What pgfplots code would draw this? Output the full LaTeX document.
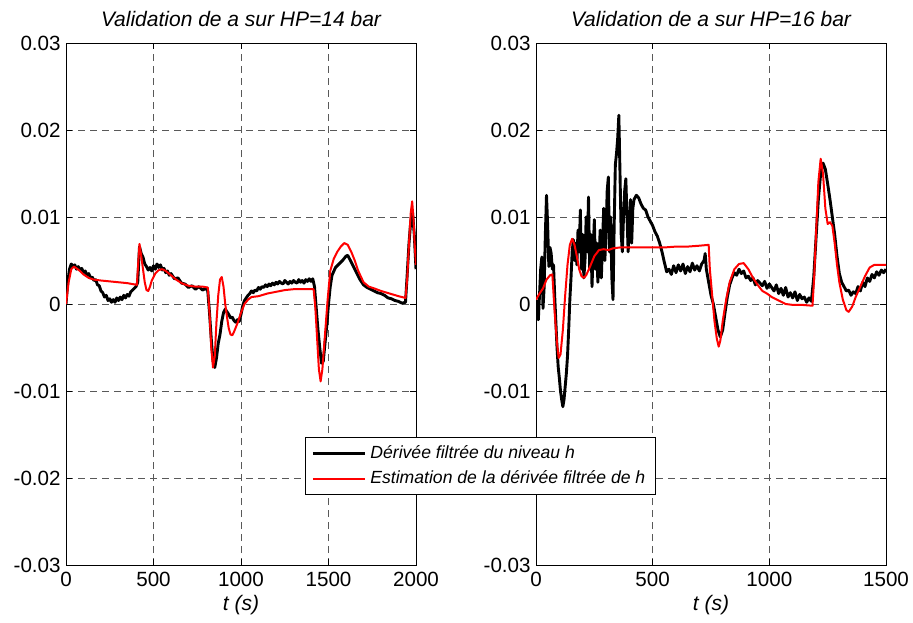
\documentclass[border=0pt]{standalone}
\usepackage{pgfplots}
\pgfplotsset{compat=1.18}
\usepackage{fontspec}
\setmainfont{Liberation Sans}
\begin{document}
\begin{tikzpicture}
\pgfplotsset{
  myaxis/.style={
    scale only axis, width=175pt, height=261pt, anchor=south west,
    ymin=-0.03, ymax=0.03,
    ytick={-0.03,-0.02,-0.01,0,0.01,0.02,0.03},
    yticklabels={-0.03,-0.02,-0.01,0,0.01,0.02,0.03},
    scaled y ticks=false, scaled x ticks=false,
    /pgf/number format/assume math mode=true,
    /pgf/number format/1000 sep={},
    grid=major,
    major grid style={black!65, line width=0.45pt, dash pattern=on 3.5pt off 2.5pt},
    axis line style={black, line width=0.5pt},
    tick align=inside, tick pos=both, major tick length=3pt,
    tick style={black, line width=0.45pt},
    tick label style={font=\fontsize{10.3}{12}\selectfont},
    xticklabel style={anchor=base, yshift=-10.5pt},
    yticklabel style={anchor=east, inner sep=0pt, xshift=-2.5pt},
    title style={at={(0.5,1)}, anchor=base, yshift=2.5pt, font=\fontsize{10.5}{12}\selectfont\itshape},
    xlabel style={at={(0.5,0)}, anchor=base, yshift=-22.5pt, font=\fontsize{10.5}{12}\selectfont\itshape},
    xlabel={t (s)},
    every axis plot/.append style={line join=round},
  }
}
\path[use as bounding box] (0,0) rectangle (456.5pt,311pt);
\begin{axis}[myaxis, at={(33pt,28.5pt)}, xmin=0, xmax=2000, xtick={0,500,1000,1500,2000},
  title={Validation de a sur HP=14 bar}]
\addplot[black, line width=1.45pt] coordinates {
(0,0.0000)(10,0.0025)(20,0.0040)(30,0.0046)(40,0.0043)(50,0.0045)(60,0.0040)(70,0.0043)(80,0.0039)(90,0.0041)
(100,0.0036)(110,0.0038)(120,0.0033)(130,0.0035)(140,0.0030)(150,0.0031)(160,0.0027)(170,0.0028)(180,0.0022)(190,0.0021)
(200,0.0015)(210,0.0013)(220,0.0008)(230,0.0010)(240,0.0004)(250,0.0006)(260,0.0002)(270,0.0005)(280,0.0002)(290,0.0007)
(300,0.0004)(310,0.0008)(320,0.0005)(330,0.0010)(340,0.0007)(350,0.0011)(360,0.0009)(370,0.0014)(380,0.0016)(390,0.0018)
(400,0.0020)(410,0.0025)(420,0.0066)(430,0.0058)(440,0.0054)(450,0.0046)(460,0.0043)(470,0.0039)(480,0.0042)(490,0.0038)
(500,0.0044)(510,0.0040)(520,0.0046)(530,0.0042)(540,0.0045)(550,0.0039)(560,0.0041)(570,0.0036)(580,0.0038)(590,0.0033)
(600,0.0035)(620,0.0029)(640,0.0030)(660,0.0024)(680,0.0023)(700,0.0019)(720,0.0021)(740,0.0017)(760,0.0020)(780,0.0016)
(800,0.0018)(810,0.0015)(820,-0.0010)(830,-0.0040)(840,-0.0065)(850,-0.0073)(860,-0.0062)(870,-0.0045)(880,-0.0035)(890,-0.0020)
(900,-0.0010)(910,-0.0006)(920,-0.0009)(930,-0.0012)(940,-0.0016)(950,-0.0015)(960,-0.0019)(970,-0.0021)(980,-0.0018)(990,-0.0020)
(1000,-0.0012)(1010,-0.0002)(1020,0.0004)(1030,0.0007)(1040,0.0010)(1050,0.0012)(1060,0.0015)(1070,0.0013)(1080,0.0016)(1090,0.0015)(1100,0.0019)(1110,0.0017)(1120,0.0020)
(1130,0.0019)(1140,0.0022)(1150,0.0020)(1160,0.0023)(1170,0.0021)(1180,0.0024)(1190,0.0022)(1200,0.0025)(1210,0.0023)(1220,0.0026)(1230,0.0024)(1240,0.0023)(1250,0.0027)(1260,0.0025)(1270,0.0023)(1280,0.0026)(1290,0.0024)(1300,0.0027)(1310,0.0025)(1320,0.0024)
(1330,0.0028)(1340,0.0025)(1350,0.0027)(1360,0.0024)(1370,0.0028)(1380,0.0026)(1390,0.0029)(1400,0.0026)(1410,0.0029)(1420,0.0020)(1430,-0.0005)(1440,-0.0030)(1450,-0.0050)(1460,-0.0068)
(1470,-0.0066)(1480,-0.0045)(1490,-0.0025)(1500,0.0000)(1510,0.0020)(1520,0.0033)(1540,0.0042)(1560,0.0046)(1580,0.0050)(1600,0.0055)
(1610,0.0056)(1620,0.0052)(1640,0.0044)(1660,0.0036)(1680,0.0028)(1700,0.0022)(1720,0.0019)(1740,0.0017)(1760,0.0015)(1780,0.0013)
(1800,0.0012)(1820,0.0010)(1840,0.0007)(1860,0.0006)(1880,0.0004)(1900,0.0003)(1920,0.0001)(1940,0.0002)(1950,0.0035)(1960,0.0070)
(1970,0.0095)(1980,0.0105)(1990,0.0080)(2000,0.0040)
};
\addplot[red, line width=1pt] coordinates {
(0,0.0000)(15,0.0025)(30,0.0040)(45,0.0043)(60,0.0041)(80,0.0038)(100,0.0034)(130,0.0030)(160,0.0028)(200,0.0027)
(250,0.0026)(300,0.0025)(350,0.0024)(405,0.0022)(412,0.0045)(420,0.0069)(430,0.0055)(440,0.0040)(450,0.0025)(460,0.0016)
(470,0.0015)(480,0.0020)(490,0.0027)(510,0.0035)(530,0.0039)(550,0.0040)(570,0.0038)(600,0.0033)(630,0.0028)(660,0.0024)
(700,0.0021)(740,0.0020)(780,0.0020)(810,0.0019)(820,-0.0010)(830,-0.0050)(840,-0.0073)(850,-0.0060)(860,-0.0020)(870,0.0010)
(880,0.0028)(890,0.0031)(900,0.0020)(910,0.0000)(920,-0.0015)(930,-0.0028)(940,-0.0035)(950,-0.0036)(960,-0.0032)(980,-0.0022)
(1000,-0.0010)(1020,0.0000)(1040,0.0005)(1060,0.0008)(1100,0.0009)(1150,0.0012)(1200,0.0014)(1250,0.0016)(1300,0.0017)(1350,0.0017)
(1415,0.0017)(1425,-0.0005)(1435,-0.0040)(1445,-0.0075)(1455,-0.0089)(1465,-0.0075)(1480,-0.0035)(1495,0.0005)(1510,0.0038)(1530,0.0052)
(1550,0.0060)(1570,0.0066)(1590,0.0070)(1610,0.0068)(1630,0.0060)(1650,0.0050)(1670,0.0038)(1700,0.0025)(1730,0.0020)(1760,0.0018)
(1800,0.0015)(1850,0.0012)(1900,0.0009)(1940,0.0007)(1950,0.0030)(1960,0.0070)(1970,0.0105)(1978,0.0118)(1985,0.0100)(1992,0.0070)
(2000,0.0045)
};
\end{axis}
\begin{axis}[myaxis, at={(268pt,28.5pt)}, xmin=0, xmax=1500, xtick={0,500,1000,1500},
  title={Validation de a sur HP=16 bar},
  legend style={at={(-0.66,0.245)}, anchor=north west, draw=black, line width=0.5pt, fill=white,
    font=\fontsize{8.8}{10}\selectfont\itshape, inner xsep=3pt, inner ysep=2pt, row sep=0.5pt},
  legend cell align=left,
  legend image code/.code={\draw[#1] (0pt,0pt) -- (26pt,0pt);}]
\addplot[black, line width=1.45pt] coordinates {
(0,0.0005)(5,-0.0015)(10,-0.0018)(15,0.0010)(20,0.0040)(25,0.0054)(30,-0.0005)(35,0.0020)(40,0.0080)(45,0.0125)
(50,0.0090)(55,0.0043)(60,0.0065)(65,0.0058)(70,0.0040)(75,0.0045)(80,0.0010)(85,-0.0020)(90,-0.0050)(95,-0.0072)
(100,-0.0085)(105,-0.0100)(110,-0.0110)(115,-0.0118)(120,-0.0110)(125,-0.0095)(130,-0.0080)(135,-0.0060)(140,-0.0030)(145,0.0005)
(150,0.0030)(155,0.0060)(160,0.0074)(165,0.0050)(170,0.0070)(175,0.0045)(180,0.0085)(185,0.0060)(190,0.0108)(195,0.0040)
(200,0.0080)(205,0.0030)(210,0.0050)(215,0.0100)(220,0.0060)(225,0.0123)(230,0.0040)(235,0.0080)(240,0.0020)(245,0.0060)
(250,0.0097)(255,0.0040)(260,0.0070)(265,0.0025)(270,0.0050)(275,0.0085)(280,0.0030)(285,0.0070)(290,0.0110)(295,0.0050)
(300,0.0080)(305,0.0130)(310,0.0146)(315,0.0060)(320,0.0100)(325,0.0030)(330,0.0005)(335,0.0090)(340,0.0160)(345,0.0173)
(350,0.0190)(355,0.0217)(360,0.0150)(365,0.0080)(370,0.0060)(375,0.0100)(380,0.0130)(385,0.0144)(390,0.0100)(395,0.0060)
(400,0.0090)(405,0.0120)(410,0.0070)(415,0.0110)(420,0.0120)(430,0.0125)(440,0.0122)(450,0.0115)(460,0.0110)(470,0.0108)
(480,0.0100)(490,0.0095)(500,0.0090)(510,0.0083)(520,0.0078)(530,0.0070)(540,0.0060)(550,0.0048)(560,0.0037)(570,0.0040)
(580,0.0034)(590,0.0044)(600,0.0036)(610,0.0045)(620,0.0038)(630,0.0046)(640,0.0035)(650,0.0043)(660,0.0037)(670,0.0047)
(680,0.0039)(690,0.0044)(700,0.0038)(710,0.0046)(720,0.0050)(725,0.0058)(730,0.0040)(740,0.0025)(750,0.0010)(760,0.0000)
(770,-0.0015)(780,-0.0030)(790,-0.0038)(800,-0.0030)(810,-0.0010)(820,0.0008)(830,0.0022)(840,0.0030)(850,0.0036)(860,0.0033)
(870,0.0040)(880,0.0035)(890,0.0038)(900,0.0030)(910,0.0032)(920,0.0027)(930,0.0030)(940,0.0022)(950,0.0027)(960,0.0024)
(970,0.0021)(980,0.0026)(990,0.0018)(1000,0.0023)(1010,0.0019)(1020,0.0015)(1030,0.0022)(1040,0.0012)(1050,0.0018)(1060,0.0010)
(1070,0.0019)(1080,0.0008)(1090,0.0013)(1100,0.0007)(1110,0.0014)(1120,0.0004)(1130,0.0011)(1140,0.0006)(1150,0.0008)(1160,0.0002)
(1170,0.0007)(1180,0.0003)(1190,0.0030)(1200,0.0075)(1210,0.0120)(1220,0.0150)(1230,0.0162)(1240,0.0155)(1250,0.0138)(1260,0.0120)
(1270,0.0100)(1280,0.0080)(1290,0.0055)(1300,0.0035)(1310,0.0025)(1320,0.0020)(1330,0.0015)(1340,0.0016)(1350,0.0010)(1360,0.0014)
(1370,0.0012)(1380,0.0020)(1390,0.0015)(1400,0.0025)(1410,0.0020)(1420,0.0030)(1430,0.0026)(1440,0.0034)(1450,0.0030)(1460,0.0037)
(1470,0.0033)(1480,0.0039)(1490,0.0036)(1500,0.0040)
};
\addlegendentry{Dérivée filtrée du niveau h}
\addplot[red, line width=1pt] coordinates {
(0,0.0005)(15,0.0012)(30,0.0018)(45,0.0028)(60,0.0033)(70,0.0034)(80,-0.0010)(90,-0.0045)(97,-0.0062)(105,-0.0058)
(115,-0.0030)(125,0.0010)(135,0.0045)(145,0.0068)(155,0.0075)(165,0.0068)(175,0.0055)(185,0.0040)(195,0.0032)(205,0.0030)
(215,0.0033)(230,0.0042)(250,0.0055)(270,0.0062)(290,0.0063)(310,0.0062)(330,0.0064)(360,0.0065)(400,0.0065)(450,0.0065)
(500,0.0065)(550,0.0065)(600,0.0066)(650,0.0066)(700,0.0067)(740,0.0068)(745,0.0040)(755,0.0010)(765,-0.0020)(775,-0.0040)
(783,-0.0049)(790,-0.0042)(800,-0.0020)(815,0.0005)(830,0.0025)(850,0.0040)(870,0.0046)(890,0.0047)(910,0.0040)(930,0.0030)
(950,0.0022)(970,0.0015)(990,0.0012)(1010,0.0008)(1040,0.0004)(1070,0.0000)(1100,-0.0001)(1140,-0.0001)(1185,-0.0002)(1192,0.0030)
(1200,0.0080)(1210,0.0140)(1220,0.0167)(1230,0.0150)(1240,0.0110)(1250,0.0092)(1260,0.0094)(1270,0.0090)(1280,0.0070)(1290,0.0045)
(1300,0.0025)(1315,0.0005)(1330,-0.0007)(1340,-0.0009)(1355,-0.0003)(1370,0.0008)(1390,0.0020)(1410,0.0032)(1430,0.0042)(1450,0.0045)
(1500,0.0045)
};
\addlegendentry{Estimation de la dérivée filtrée de h}
\end{axis}
\end{tikzpicture}
\end{document}
